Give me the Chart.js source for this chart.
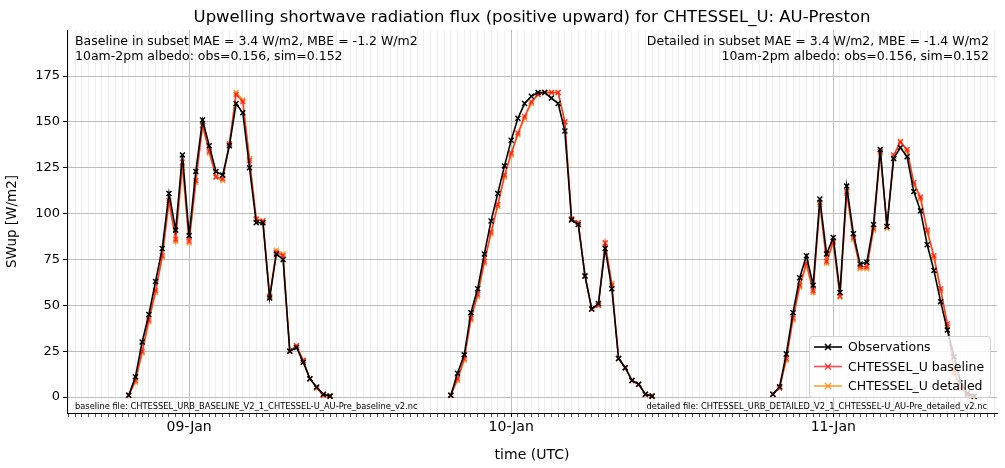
<!DOCTYPE html>
<html>
<head>
<meta charset="utf-8">
<script src="https://cdn.jsdelivr.net/npm/chart.js@4.4.0/dist/chart.umd.min.js"></script>
<style>
  html, body { margin: 0; padding: 0; background: #fff; }
  #wrap { width: 1005px; height: 468px; }
</style>
</head>
<body>
<div id="wrap"><canvas id="chart" width="1005" height="468"></canvas></div>
<script>
// Days shown (hours relative to 09-Jan 00:00 UTC)
const dayLabels = ['09-Jan', '10-Jan', '11-Jan'];
const dayOffsets = [0, 24, 48];
const startHour = -4.5;   // each daylight block starts 19:30 UTC the day before
const stepHours = 0.5;

// Half-hourly values per daylight block
const obsDays = [
  [1, 11, 30, 45, 63, 81, 111, 91, 132, 88, 123, 151, 137, 123, 121, 137, 160, 155, 125, 95, 95, 54, 78, 75, 25, 27, 19, 10, 5.5, 1.5, 0.5],
  [1, 13, 23, 46, 59, 78, 96, 111, 126, 140, 152, 160, 164, 166, 166, 163, 160, 145, 96.5, 94, 66, 48, 51, 81, 59, 21, 16, 9, 7, 1.5, 0.5],
  [1.5, 5.6, 23.5, 46, 65, 77, 61, 108, 78, 87, 57, 115, 89, 72.5, 73.5, 94, 135, 93, 130, 136, 131, 112, 101.5, 83, 69, 52, 36.5, 22, 8, 2, 0.5]
];
const baselineDays = [
  [1, 9, 25, 42, 58, 77, 107, 86, 128, 85, 118, 148, 134, 120, 119, 138, 165, 161, 129, 97, 96, 55, 79, 77, 25, 28, 20, 10, 5, 1, 0.5],
  [1, 10, 21, 43, 56, 74, 90, 105, 121, 133, 144, 153, 161, 165, 166, 166, 166, 150, 97, 95, 66, 48, 50, 84, 61, 21, 16, 9, 7, 1.5, 0.5],
  [1.5, 5, 21, 43, 61, 73, 58, 106, 74, 85, 55, 112, 87, 71, 71, 92, 134, 93, 132, 139, 135, 117, 109, 91, 77, 59, 40, 14, 5, 1, 0.5]
];
const detailedDays = [
  [1, 8, 24, 41, 57, 76, 106, 85, 125, 84, 117, 148, 133, 120, 118, 138, 166, 162, 130, 97, 96, 55, 80, 78, 25, 28, 20, 10, 5, 1, 0.5],
  [1, 9, 20, 42, 55, 73, 89, 104, 120, 132, 143, 152, 160, 165, 166, 166, 166, 150, 97, 95, 66, 48, 50, 84, 62, 21, 16, 9, 7, 1.5, 0.5],
  [1.5, 5, 20, 42, 60, 72, 57, 105, 73, 84, 54.5, 111, 86, 70, 70, 91, 133, 92, 131, 139.5, 134, 116, 108, 90, 76, 58, 39, 13, 5, 1, 0.5]
];
const yTicks = [0, 25, 50, 75, 100, 125, 150, 175];

const textLeft = ['Baseline in subset MAE = 3.4 W/m2, MBE = -1.2 W/m2', '10am-2pm albedo: obs=0.156, sim=0.152'];
const textRight = ['Detailed in subset MAE = 3.4 W/m2, MBE = -1.4 W/m2', '10am-2pm albedo: obs=0.156, sim=0.152'];
const fileLeft = 'baseline file: CHTESSEL_URB_BASELINE_V2_1_CHTESSEL-U_AU-Pre_baseline_v2.nc';
const fileRight = 'detailed file: CHTESSEL_URB_DETAILED_V2_1_CHTESSEL-U_AU-Pre_detailed_v2.nc';

// join daylight blocks into one series, with a gap between nights
function buildSeries(days) {
  const pts = [];
  days.forEach((vals, d) => {
    vals.forEach((v, i) => pts.push({ x: dayOffsets[d] + startHour + i * stepHours, y: v }));
    pts.push({ x: dayOffsets[d] + 12, y: null });
  });
  return pts;
}

const FONT = 'DejaVu Sans';
Chart.defaults.font.family = FONT;
Chart.defaults.color = '#000';

const series = [
  { label: 'Observations', data: buildSeries(obsDays), color: '#000000', width: 1.6 },
  { label: 'CHTESSEL_U baseline', data: buildSeries(baselineDays), color: 'rgba(255,20,20,0.75)', width: 1.5 },
  { label: 'CHTESSEL_U detailed', data: buildSeries(detailedDays), color: 'rgba(255,135,0,0.8)', width: 1.5 }
];

const overlay = {
  id: 'overlay',
  afterDraw(chart) {
    const { ctx, chartArea: a } = chart;
    ctx.save();
    ctx.fillStyle = '#000';
    ctx.font = '16.5px ' + FONT;
    ctx.textAlign = 'center';
    ctx.textBaseline = 'alphabetic';
    ctx.fillText('Upwelling shortwave radiation flux (positive upward) for CHTESSEL_U: AU-Preston', (a.left + a.right) / 2, 22);

    ctx.font = '12.5px ' + FONT;
    ctx.textAlign = 'left';
    ctx.fillText(textLeft[0], a.left + 8, a.top + 15);
    ctx.fillText(textLeft[1], a.left + 8, a.top + 30);
    ctx.textAlign = 'right';
    ctx.fillText(textRight[0], a.right - 8, a.top + 15);
    ctx.fillText(textRight[1], a.right - 8, a.top + 30);

    ctx.font = '8.3px ' + FONT;
    ctx.textAlign = 'left';
    ctx.fillText(fileLeft, a.left + 8, a.bottom - 4);
    ctx.textAlign = 'right';
    ctx.fillText(fileRight, a.right - 10, a.bottom - 4);

    // legend box
    const bx = 809, by = 336, bw = 181, bh = 61;
    ctx.fillStyle = 'rgba(255,255,255,0.8)';
    ctx.strokeStyle = '#d0d0d0';
    ctx.lineWidth = 1;
    ctx.beginPath();
    ctx.roundRect(bx + 0.5, by + 0.5, bw, bh, 3);
    ctx.fill();
    ctx.stroke();
    ctx.font = '12.5px ' + FONT;
    ctx.textAlign = 'left';
    ctx.textBaseline = 'middle';
    series.forEach((s, i) => {
      const yy = by + 11 + i * 19.5;
      ctx.strokeStyle = s.color;
      ctx.lineWidth = 1.6;
      ctx.beginPath();
      ctx.moveTo(bx + 5, yy); ctx.lineTo(bx + 33, yy); ctx.stroke();
      const cx = bx + 19, r = 3;
      ctx.beginPath();
      ctx.moveTo(cx - r, yy - r); ctx.lineTo(cx + r, yy + r);
      ctx.moveTo(cx - r, yy + r); ctx.lineTo(cx + r, yy - r);
      ctx.stroke();
      ctx.fillStyle = '#000';
      ctx.fillText(s.label, bx + 39, yy + 1);
    });
    ctx.restore();
  }
};

new Chart(document.getElementById('chart'), {
  type: 'line',
  data: {
    datasets: series.map(s => ({
      label: s.label,
      data: s.data,
      borderColor: s.color,
      backgroundColor: s.color,
      borderWidth: s.width,
      pointStyle: 'crossRot',
      pointRadius: 3.5,
      pointBorderWidth: 1.5,
      pointBorderColor: s.color,
      tension: 0,
      spanGaps: false
    }))
  },
  options: {
    responsive: false,
    animation: false,
    layout: { padding: { top: 30, right: 8, left: 0, bottom: 0 } },
    plugins: { legend: { display: false }, tooltip: { enabled: false }, title: { display: false } },
    scales: {
      x: {
        type: 'linear',
        min: -9.1,
        max: 60.2,
        afterBuildTicks(scale) {
          const t = [];
          for (let h = -9; h <= 60; h += 0.5) t.push({ value: h });
          scale.ticks = t;
        },
        afterFit(scale) { scale.height = 55; },
        grid: {
          color: c => (c.tick && c.tick.value % 24 === 0) ? '#bdbdbd' : '#efefef',
          lineWidth: 1,
          tickLength: 4,
          tickColor: c => (c.tick && c.tick.value % 24 === 0) ? '#000' : '#555'
        },
        border: { color: '#000' },
        ticks: {
          autoSkip: false,
          maxRotation: 0,
          font: { size: 14 },
          padding: 2,
          callback: v => { const i = dayOffsets.indexOf(v); return i >= 0 ? dayLabels[i] : ''; }
        },
        title: { display: true, text: 'time (UTC)', font: { size: 14 }, padding: { top: 0 } }
      },
      y: {
        min: -8.7,
        max: 200.1,
        afterBuildTicks(scale) { scale.ticks = yTicks.map(v => ({ value: v })); },
        afterFit(scale) { scale.width = 67; },
        grid: { color: '#bdbdbd', tickLength: 4, tickColor: '#000' },
        border: { color: '#000' },
        ticks: { font: { size: 13 }, padding: 3 },
        title: { display: true, text: 'SWup [W/m2]', font: { size: 13.5 }, padding: { bottom: 0 } }
      }
    }
  },
  plugins: [overlay]
});
</script>
</body>
</html>
